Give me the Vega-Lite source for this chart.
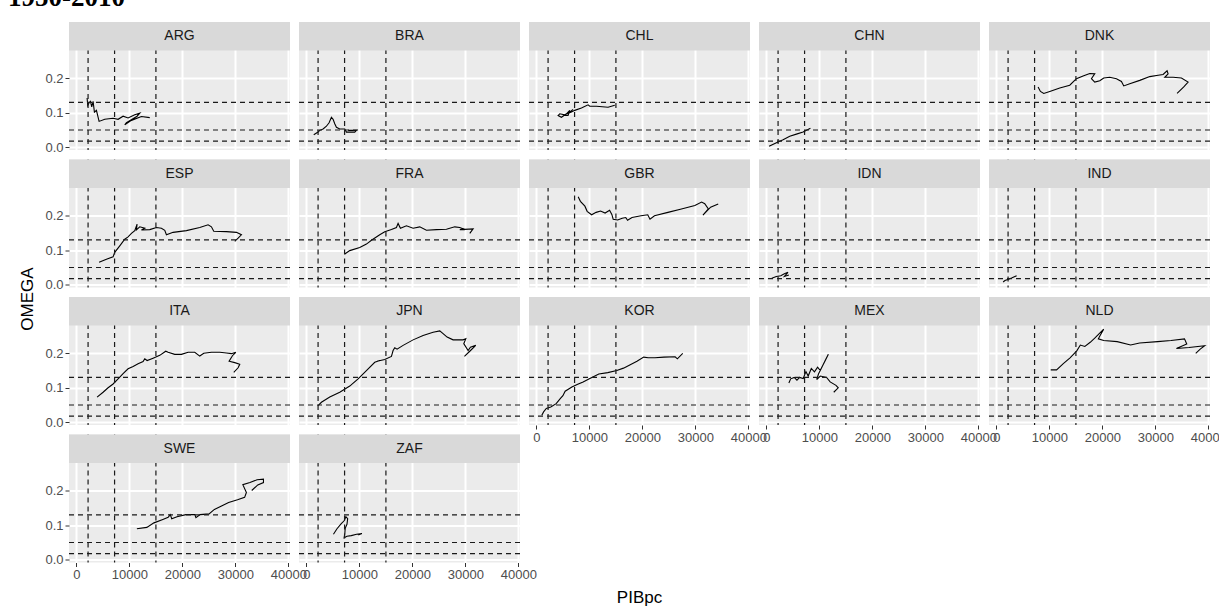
{
"$schema":"https://vega.github.io/schema/vega-lite/v6.json",
"padding":{"left":8,"top":-16,"right":0,"bottom":0},
"background":"white",
"title":{"text":"1950-2010","anchor":"start","frame":"group","dx":-61,"offset":9,"font":"Liberation Serif","fontSize":27,"fontWeight":"bold","color":"black"},
"datasets":{
"vref":[{"v":2200},{"v":7200},{"v":15000}],
"href":[{"h":0.13},{"h":0.05},{"h":0.0175}],
"omega":[
{"country":"ARG","idx":1,"PIBpc":2013,"OMEGA":0.143},{"country":"ARG","idx":2,"PIBpc":2139,"OMEGA":0.121},{"country":"ARG","idx":3,"PIBpc":2390,"OMEGA":0.129},{"country":"ARG","idx":4,"PIBpc":2642,"OMEGA":0.133},{"country":"ARG","idx":5,"PIBpc":2893,"OMEGA":0.117},{"country":"ARG","idx":6,"PIBpc":3145,"OMEGA":0.133},{"country":"ARG","idx":7,"PIBpc":3397,"OMEGA":0.102},{"country":"ARG","idx":8,"PIBpc":3774,"OMEGA":0.107},{"country":"ARG","idx":9,"PIBpc":4277,"OMEGA":0.075},{"country":"ARG","idx":10,"PIBpc":5347,"OMEGA":0.081},{"country":"ARG","idx":11,"PIBpc":6919,"OMEGA":0.084},{"country":"ARG","idx":12,"PIBpc":7863,"OMEGA":0.081},{"country":"ARG","idx":13,"PIBpc":8806,"OMEGA":0.090},{"country":"ARG","idx":14,"PIBpc":9750,"OMEGA":0.085},{"country":"ARG","idx":15,"PIBpc":11007,"OMEGA":0.094},{"country":"ARG","idx":16,"PIBpc":11951,"OMEGA":0.099},{"country":"ARG","idx":17,"PIBpc":11447,"OMEGA":0.090},{"country":"ARG","idx":18,"PIBpc":9435,"OMEGA":0.071},{"country":"ARG","idx":19,"PIBpc":9120,"OMEGA":0.065},{"country":"ARG","idx":20,"PIBpc":10378,"OMEGA":0.078},{"country":"ARG","idx":21,"PIBpc":12266,"OMEGA":0.089},{"country":"ARG","idx":22,"PIBpc":13838,"OMEGA":0.086},
{"country":"BRA","idx":1,"PIBpc":1384,"OMEGA":0.036},{"country":"BRA","idx":2,"PIBpc":2200,"OMEGA":0.044},{"country":"BRA","idx":3,"PIBpc":2516,"OMEGA":0.049},{"country":"BRA","idx":4,"PIBpc":3145,"OMEGA":0.053},{"country":"BRA","idx":5,"PIBpc":3774,"OMEGA":0.061},{"country":"BRA","idx":6,"PIBpc":4277,"OMEGA":0.071},{"country":"BRA","idx":7,"PIBpc":4718,"OMEGA":0.087},{"country":"BRA","idx":8,"PIBpc":5032,"OMEGA":0.081},{"country":"BRA","idx":9,"PIBpc":5347,"OMEGA":0.068},{"country":"BRA","idx":10,"PIBpc":5661,"OMEGA":0.058},{"country":"BRA","idx":11,"PIBpc":6290,"OMEGA":0.053},{"country":"BRA","idx":12,"PIBpc":7233,"OMEGA":0.053},{"country":"BRA","idx":13,"PIBpc":7548,"OMEGA":0.044},{"country":"BRA","idx":14,"PIBpc":9120,"OMEGA":0.044},{"country":"BRA","idx":15,"PIBpc":9435,"OMEGA":0.049},{"country":"BRA","idx":16,"PIBpc":7863,"OMEGA":0.049},
{"country":"CHL","idx":1,"PIBpc":6919,"OMEGA":0.110},{"country":"CHL","idx":2,"PIBpc":6290,"OMEGA":0.102},{"country":"CHL","idx":3,"PIBpc":5347,"OMEGA":0.094},{"country":"CHL","idx":4,"PIBpc":4403,"OMEGA":0.097},{"country":"CHL","idx":5,"PIBpc":4089,"OMEGA":0.092},{"country":"CHL","idx":6,"PIBpc":4718,"OMEGA":0.087},{"country":"CHL","idx":7,"PIBpc":5661,"OMEGA":0.097},{"country":"CHL","idx":8,"PIBpc":6290,"OMEGA":0.107},{"country":"CHL","idx":9,"PIBpc":5976,"OMEGA":0.092},{"country":"CHL","idx":10,"PIBpc":5032,"OMEGA":0.092},{"country":"CHL","idx":11,"PIBpc":6605,"OMEGA":0.102},{"country":"CHL","idx":12,"PIBpc":7233,"OMEGA":0.107},{"country":"CHL","idx":13,"PIBpc":8491,"OMEGA":0.114},{"country":"CHL","idx":14,"PIBpc":9750,"OMEGA":0.123},{"country":"CHL","idx":15,"PIBpc":10064,"OMEGA":0.119},{"country":"CHL","idx":16,"PIBpc":11322,"OMEGA":0.119},{"country":"CHL","idx":17,"PIBpc":13524,"OMEGA":0.116},{"country":"CHL","idx":18,"PIBpc":14782,"OMEGA":0.122},
{"country":"CHN","idx":1,"PIBpc":503,"OMEGA":0.003},{"country":"CHN","idx":2,"PIBpc":1887,"OMEGA":0.013},{"country":"CHN","idx":3,"PIBpc":3145,"OMEGA":0.022},{"country":"CHN","idx":4,"PIBpc":4403,"OMEGA":0.032},{"country":"CHN","idx":5,"PIBpc":5661,"OMEGA":0.038},{"country":"CHN","idx":6,"PIBpc":6919,"OMEGA":0.044},{"country":"CHN","idx":7,"PIBpc":8303,"OMEGA":0.055},
{"country":"DNK","idx":1,"PIBpc":7863,"OMEGA":0.175},{"country":"DNK","idx":2,"PIBpc":8303,"OMEGA":0.162},{"country":"DNK","idx":3,"PIBpc":8932,"OMEGA":0.156},{"country":"DNK","idx":4,"PIBpc":10064,"OMEGA":0.162},{"country":"DNK","idx":5,"PIBpc":11951,"OMEGA":0.172},{"country":"DNK","idx":6,"PIBpc":13838,"OMEGA":0.180},{"country":"DNK","idx":7,"PIBpc":15096,"OMEGA":0.199},{"country":"DNK","idx":8,"PIBpc":16354,"OMEGA":0.207},{"country":"DNK","idx":9,"PIBpc":17612,"OMEGA":0.214},{"country":"DNK","idx":10,"PIBpc":18556,"OMEGA":0.213},{"country":"DNK","idx":11,"PIBpc":17927,"OMEGA":0.199},{"country":"DNK","idx":12,"PIBpc":18556,"OMEGA":0.189},{"country":"DNK","idx":13,"PIBpc":19499,"OMEGA":0.193},{"country":"DNK","idx":14,"PIBpc":20254,"OMEGA":0.201},{"country":"DNK","idx":15,"PIBpc":21386,"OMEGA":0.203},{"country":"DNK","idx":16,"PIBpc":22644,"OMEGA":0.199},{"country":"DNK","idx":17,"PIBpc":23588,"OMEGA":0.191},{"country":"DNK","idx":18,"PIBpc":24028,"OMEGA":0.178},{"country":"DNK","idx":19,"PIBpc":25160,"OMEGA":0.184},{"country":"DNK","idx":20,"PIBpc":27047,"OMEGA":0.194},{"country":"DNK","idx":21,"PIBpc":28934,"OMEGA":0.205},{"country":"DNK","idx":22,"PIBpc":30507,"OMEGA":0.209},{"country":"DNK","idx":23,"PIBpc":31450,"OMEGA":0.211},{"country":"DNK","idx":24,"PIBpc":32205,"OMEGA":0.222},{"country":"DNK","idx":25,"PIBpc":32394,"OMEGA":0.213},{"country":"DNK","idx":26,"PIBpc":31765,"OMEGA":0.203},{"country":"DNK","idx":27,"PIBpc":33337,"OMEGA":0.203},{"country":"DNK","idx":28,"PIBpc":34910,"OMEGA":0.201},{"country":"DNK","idx":29,"PIBpc":36168,"OMEGA":0.189},{"country":"DNK","idx":30,"PIBpc":35350,"OMEGA":0.175},{"country":"DNK","idx":31,"PIBpc":34092,"OMEGA":0.156},
{"country":"ESP","idx":1,"PIBpc":4277,"OMEGA":0.065},{"country":"ESP","idx":2,"PIBpc":5661,"OMEGA":0.074},{"country":"ESP","idx":3,"PIBpc":6919,"OMEGA":0.081},{"country":"ESP","idx":4,"PIBpc":7233,"OMEGA":0.094},{"country":"ESP","idx":5,"PIBpc":8177,"OMEGA":0.113},{"country":"ESP","idx":6,"PIBpc":9120,"OMEGA":0.132},{"country":"ESP","idx":7,"PIBpc":9750,"OMEGA":0.139},{"country":"ESP","idx":8,"PIBpc":10378,"OMEGA":0.149},{"country":"ESP","idx":9,"PIBpc":11007,"OMEGA":0.157},{"country":"ESP","idx":10,"PIBpc":11447,"OMEGA":0.176},{"country":"ESP","idx":11,"PIBpc":11322,"OMEGA":0.159},{"country":"ESP","idx":12,"PIBpc":11951,"OMEGA":0.168},{"country":"ESP","idx":13,"PIBpc":12895,"OMEGA":0.164},{"country":"ESP","idx":14,"PIBpc":12266,"OMEGA":0.159},{"country":"ESP","idx":15,"PIBpc":13838,"OMEGA":0.160},{"country":"ESP","idx":16,"PIBpc":15096,"OMEGA":0.166},{"country":"ESP","idx":17,"PIBpc":16039,"OMEGA":0.164},{"country":"ESP","idx":18,"PIBpc":16668,"OMEGA":0.158},{"country":"ESP","idx":19,"PIBpc":16983,"OMEGA":0.145},{"country":"ESP","idx":20,"PIBpc":18241,"OMEGA":0.152},{"country":"ESP","idx":21,"PIBpc":20757,"OMEGA":0.157},{"country":"ESP","idx":22,"PIBpc":23273,"OMEGA":0.166},{"country":"ESP","idx":23,"PIBpc":24846,"OMEGA":0.174},{"country":"ESP","idx":24,"PIBpc":25475,"OMEGA":0.168},{"country":"ESP","idx":25,"PIBpc":25915,"OMEGA":0.155},{"country":"ESP","idx":26,"PIBpc":28305,"OMEGA":0.154},{"country":"ESP","idx":27,"PIBpc":30192,"OMEGA":0.152},{"country":"ESP","idx":28,"PIBpc":31136,"OMEGA":0.145},{"country":"ESP","idx":29,"PIBpc":30507,"OMEGA":0.135},{"country":"ESP","idx":30,"PIBpc":29878,"OMEGA":0.126},
{"country":"FRA","idx":1,"PIBpc":7233,"OMEGA":0.089},{"country":"FRA","idx":2,"PIBpc":8177,"OMEGA":0.099},{"country":"FRA","idx":3,"PIBpc":10064,"OMEGA":0.108},{"country":"FRA","idx":4,"PIBpc":11322,"OMEGA":0.118},{"country":"FRA","idx":5,"PIBpc":12266,"OMEGA":0.129},{"country":"FRA","idx":6,"PIBpc":13838,"OMEGA":0.145},{"country":"FRA","idx":7,"PIBpc":14782,"OMEGA":0.154},{"country":"FRA","idx":8,"PIBpc":16040,"OMEGA":0.160},{"country":"FRA","idx":9,"PIBpc":16983,"OMEGA":0.166},{"country":"FRA","idx":10,"PIBpc":17298,"OMEGA":0.178},{"country":"FRA","idx":11,"PIBpc":17738,"OMEGA":0.164},{"country":"FRA","idx":12,"PIBpc":18870,"OMEGA":0.171},{"country":"FRA","idx":13,"PIBpc":20128,"OMEGA":0.164},{"country":"FRA","idx":14,"PIBpc":21386,"OMEGA":0.168},{"country":"FRA","idx":15,"PIBpc":22644,"OMEGA":0.158},{"country":"FRA","idx":16,"PIBpc":24531,"OMEGA":0.160},{"country":"FRA","idx":17,"PIBpc":26418,"OMEGA":0.161},{"country":"FRA","idx":18,"PIBpc":27991,"OMEGA":0.168},{"country":"FRA","idx":19,"PIBpc":28934,"OMEGA":0.166},{"country":"FRA","idx":20,"PIBpc":29878,"OMEGA":0.160},{"country":"FRA","idx":21,"PIBpc":28934,"OMEGA":0.160},{"country":"FRA","idx":22,"PIBpc":31450,"OMEGA":0.162},{"country":"FRA","idx":23,"PIBpc":30821,"OMEGA":0.149},
{"country":"GBR","idx":1,"PIBpc":7877,"OMEGA":0.255},{"country":"GBR","idx":2,"PIBpc":8301,"OMEGA":0.242},{"country":"GBR","idx":3,"PIBpc":9148,"OMEGA":0.228},{"country":"GBR","idx":4,"PIBpc":9571,"OMEGA":0.213},{"country":"GBR","idx":5,"PIBpc":10418,"OMEGA":0.203},{"country":"GBR","idx":6,"PIBpc":11265,"OMEGA":0.210},{"country":"GBR","idx":7,"PIBpc":12112,"OMEGA":0.214},{"country":"GBR","idx":8,"PIBpc":12959,"OMEGA":0.208},{"country":"GBR","idx":9,"PIBpc":13806,"OMEGA":0.216},{"country":"GBR","idx":10,"PIBpc":14230,"OMEGA":0.204},{"country":"GBR","idx":11,"PIBpc":14484,"OMEGA":0.190},{"country":"GBR","idx":12,"PIBpc":15331,"OMEGA":0.188},{"country":"GBR","idx":13,"PIBpc":16178,"OMEGA":0.193},{"country":"GBR","idx":14,"PIBpc":16855,"OMEGA":0.195},{"country":"GBR","idx":15,"PIBpc":17194,"OMEGA":0.187},{"country":"GBR","idx":16,"PIBpc":18041,"OMEGA":0.195},{"country":"GBR","idx":17,"PIBpc":19735,"OMEGA":0.200},{"country":"GBR","idx":18,"PIBpc":21006,"OMEGA":0.203},{"country":"GBR","idx":19,"PIBpc":21429,"OMEGA":0.190},{"country":"GBR","idx":20,"PIBpc":22276,"OMEGA":0.200},{"country":"GBR","idx":21,"PIBpc":24817,"OMEGA":0.210},{"country":"GBR","idx":22,"PIBpc":27358,"OMEGA":0.220},{"country":"GBR","idx":23,"PIBpc":29899,"OMEGA":0.230},{"country":"GBR","idx":24,"PIBpc":31170,"OMEGA":0.240},{"country":"GBR","idx":25,"PIBpc":31763,"OMEGA":0.235},{"country":"GBR","idx":26,"PIBpc":32440,"OMEGA":0.220},{"country":"GBR","idx":27,"PIBpc":31424,"OMEGA":0.202},{"country":"GBR","idx":28,"PIBpc":32864,"OMEGA":0.225},{"country":"GBR","idx":29,"PIBpc":34304,"OMEGA":0.234},
{"country":"IDN","idx":1,"PIBpc":1016,"OMEGA":0.019},{"country":"IDN","idx":2,"PIBpc":1863,"OMEGA":0.024},{"country":"IDN","idx":3,"PIBpc":2710,"OMEGA":0.026},{"country":"IDN","idx":4,"PIBpc":3388,"OMEGA":0.032},{"country":"IDN","idx":5,"PIBpc":4066,"OMEGA":0.036},{"country":"IDN","idx":6,"PIBpc":3388,"OMEGA":0.024},{"country":"IDN","idx":7,"PIBpc":4235,"OMEGA":0.028},
{"country":"IND","idx":1,"PIBpc":1270,"OMEGA":0.008},{"country":"IND","idx":2,"PIBpc":1609,"OMEGA":0.012},{"country":"IND","idx":3,"PIBpc":2287,"OMEGA":0.016},{"country":"IND","idx":4,"PIBpc":2965,"OMEGA":0.020},{"country":"IND","idx":5,"PIBpc":3812,"OMEGA":0.026},
{"country":"ITA","idx":1,"PIBpc":3900,"OMEGA":0.073},{"country":"ITA","idx":2,"PIBpc":5032,"OMEGA":0.087},{"country":"ITA","idx":3,"PIBpc":5976,"OMEGA":0.100},{"country":"ITA","idx":4,"PIBpc":6919,"OMEGA":0.111},{"country":"ITA","idx":5,"PIBpc":7863,"OMEGA":0.126},{"country":"ITA","idx":6,"PIBpc":8806,"OMEGA":0.141},{"country":"ITA","idx":7,"PIBpc":9750,"OMEGA":0.155},{"country":"ITA","idx":8,"PIBpc":10693,"OMEGA":0.162},{"country":"ITA","idx":9,"PIBpc":11637,"OMEGA":0.170},{"country":"ITA","idx":10,"PIBpc":12580,"OMEGA":0.176},{"country":"ITA","idx":11,"PIBpc":12895,"OMEGA":0.184},{"country":"ITA","idx":12,"PIBpc":13335,"OMEGA":0.179},{"country":"ITA","idx":13,"PIBpc":14467,"OMEGA":0.186},{"country":"ITA","idx":14,"PIBpc":15725,"OMEGA":0.194},{"country":"ITA","idx":15,"PIBpc":16857,"OMEGA":0.206},{"country":"ITA","idx":16,"PIBpc":17298,"OMEGA":0.203},{"country":"ITA","idx":17,"PIBpc":18556,"OMEGA":0.197},{"country":"ITA","idx":18,"PIBpc":19814,"OMEGA":0.197},{"country":"ITA","idx":19,"PIBpc":21072,"OMEGA":0.203},{"country":"ITA","idx":20,"PIBpc":22330,"OMEGA":0.203},{"country":"ITA","idx":21,"PIBpc":23273,"OMEGA":0.192},{"country":"ITA","idx":22,"PIBpc":24028,"OMEGA":0.200},{"country":"ITA","idx":23,"PIBpc":25475,"OMEGA":0.203},{"country":"ITA","idx":24,"PIBpc":27047,"OMEGA":0.203},{"country":"ITA","idx":25,"PIBpc":28305,"OMEGA":0.201},{"country":"ITA","idx":26,"PIBpc":29249,"OMEGA":0.199},{"country":"ITA","idx":27,"PIBpc":30066,"OMEGA":0.203},{"country":"ITA","idx":28,"PIBpc":29437,"OMEGA":0.193},{"country":"ITA","idx":29,"PIBpc":28808,"OMEGA":0.177},{"country":"ITA","idx":30,"PIBpc":29878,"OMEGA":0.173},{"country":"ITA","idx":31,"PIBpc":30821,"OMEGA":0.168},{"country":"ITA","idx":32,"PIBpc":30507,"OMEGA":0.158},{"country":"ITA","idx":33,"PIBpc":29689,"OMEGA":0.145},
{"country":"JPN","idx":1,"PIBpc":2202,"OMEGA":0.048},{"country":"JPN","idx":2,"PIBpc":2831,"OMEGA":0.058},{"country":"JPN","idx":3,"PIBpc":4403,"OMEGA":0.073},{"country":"JPN","idx":4,"PIBpc":6290,"OMEGA":0.087},{"country":"JPN","idx":5,"PIBpc":8177,"OMEGA":0.105},{"country":"JPN","idx":6,"PIBpc":9750,"OMEGA":0.126},{"country":"JPN","idx":7,"PIBpc":11322,"OMEGA":0.150},{"country":"JPN","idx":8,"PIBpc":12895,"OMEGA":0.174},{"country":"JPN","idx":9,"PIBpc":13838,"OMEGA":0.179},{"country":"JPN","idx":10,"PIBpc":13335,"OMEGA":0.177},{"country":"JPN","idx":11,"PIBpc":14782,"OMEGA":0.182},{"country":"JPN","idx":12,"PIBpc":16040,"OMEGA":0.191},{"country":"JPN","idx":13,"PIBpc":16354,"OMEGA":0.208},{"country":"JPN","idx":14,"PIBpc":16669,"OMEGA":0.216},{"country":"JPN","idx":15,"PIBpc":17109,"OMEGA":0.212},{"country":"JPN","idx":16,"PIBpc":18241,"OMEGA":0.223},{"country":"JPN","idx":17,"PIBpc":20128,"OMEGA":0.239},{"country":"JPN","idx":18,"PIBpc":22015,"OMEGA":0.252},{"country":"JPN","idx":19,"PIBpc":23902,"OMEGA":0.261},{"country":"JPN","idx":20,"PIBpc":25160,"OMEGA":0.265},{"country":"JPN","idx":21,"PIBpc":25789,"OMEGA":0.257},{"country":"JPN","idx":22,"PIBpc":26544,"OMEGA":0.247},{"country":"JPN","idx":23,"PIBpc":27676,"OMEGA":0.239},{"country":"JPN","idx":24,"PIBpc":29563,"OMEGA":0.239},{"country":"JPN","idx":25,"PIBpc":30066,"OMEGA":0.242},{"country":"JPN","idx":26,"PIBpc":29689,"OMEGA":0.228},{"country":"JPN","idx":27,"PIBpc":30507,"OMEGA":0.208},{"country":"JPN","idx":28,"PIBpc":30947,"OMEGA":0.218},{"country":"JPN","idx":29,"PIBpc":31954,"OMEGA":0.223},{"country":"JPN","idx":30,"PIBpc":30821,"OMEGA":0.206},{"country":"JPN","idx":31,"PIBpc":29815,"OMEGA":0.191},
{"country":"KOR","idx":1,"PIBpc":1016,"OMEGA":0.020},{"country":"KOR","idx":2,"PIBpc":1355,"OMEGA":0.030},{"country":"KOR","idx":3,"PIBpc":1863,"OMEGA":0.040},{"country":"KOR","idx":4,"PIBpc":2710,"OMEGA":0.044},{"country":"KOR","idx":5,"PIBpc":3727,"OMEGA":0.054},{"country":"KOR","idx":6,"PIBpc":4574,"OMEGA":0.070},{"country":"KOR","idx":7,"PIBpc":4997,"OMEGA":0.077},{"country":"KOR","idx":8,"PIBpc":5421,"OMEGA":0.090},{"country":"KOR","idx":9,"PIBpc":6691,"OMEGA":0.102},{"country":"KOR","idx":10,"PIBpc":7792,"OMEGA":0.110},{"country":"KOR","idx":11,"PIBpc":8809,"OMEGA":0.117},{"country":"KOR","idx":12,"PIBpc":10079,"OMEGA":0.127},{"country":"KOR","idx":13,"PIBpc":11773,"OMEGA":0.140},{"country":"KOR","idx":14,"PIBpc":13467,"OMEGA":0.144},{"country":"KOR","idx":15,"PIBpc":15161,"OMEGA":0.150},{"country":"KOR","idx":16,"PIBpc":16432,"OMEGA":0.157},{"country":"KOR","idx":17,"PIBpc":17702,"OMEGA":0.167},{"country":"KOR","idx":18,"PIBpc":18973,"OMEGA":0.177},{"country":"KOR","idx":19,"PIBpc":20243,"OMEGA":0.189},{"country":"KOR","idx":20,"PIBpc":21090,"OMEGA":0.187},{"country":"KOR","idx":21,"PIBpc":22361,"OMEGA":0.187},{"country":"KOR","idx":22,"PIBpc":24055,"OMEGA":0.189},{"country":"KOR","idx":23,"PIBpc":26172,"OMEGA":0.190},{"country":"KOR","idx":24,"PIBpc":26596,"OMEGA":0.184},{"country":"KOR","idx":25,"PIBpc":27612,"OMEGA":0.200},
{"country":"MEX","idx":1,"PIBpc":4235,"OMEGA":0.114},{"country":"MEX","idx":2,"PIBpc":4574,"OMEGA":0.126},{"country":"MEX","idx":3,"PIBpc":5251,"OMEGA":0.130},{"country":"MEX","idx":4,"PIBpc":5760,"OMEGA":0.122},{"country":"MEX","idx":5,"PIBpc":6268,"OMEGA":0.130},{"country":"MEX","idx":6,"PIBpc":6945,"OMEGA":0.127},{"country":"MEX","idx":7,"PIBpc":7454,"OMEGA":0.147},{"country":"MEX","idx":8,"PIBpc":7877,"OMEGA":0.134},{"country":"MEX","idx":9,"PIBpc":8470,"OMEGA":0.156},{"country":"MEX","idx":10,"PIBpc":9063,"OMEGA":0.146},{"country":"MEX","idx":11,"PIBpc":9656,"OMEGA":0.160},{"country":"MEX","idx":12,"PIBpc":10164,"OMEGA":0.150},{"country":"MEX","idx":13,"PIBpc":10672,"OMEGA":0.166},{"country":"MEX","idx":14,"PIBpc":11180,"OMEGA":0.182},{"country":"MEX","idx":15,"PIBpc":11689,"OMEGA":0.197},{"country":"MEX","idx":16,"PIBpc":11011,"OMEGA":0.176},{"country":"MEX","idx":17,"PIBpc":10333,"OMEGA":0.156},{"country":"MEX","idx":18,"PIBpc":9825,"OMEGA":0.140},{"country":"MEX","idx":19,"PIBpc":9486,"OMEGA":0.124},{"country":"MEX","idx":20,"PIBpc":10164,"OMEGA":0.134},{"country":"MEX","idx":21,"PIBpc":11350,"OMEGA":0.130},{"country":"MEX","idx":22,"PIBpc":12027,"OMEGA":0.117},{"country":"MEX","idx":23,"PIBpc":13128,"OMEGA":0.107},{"country":"MEX","idx":24,"PIBpc":13552,"OMEGA":0.100},{"country":"MEX","idx":25,"PIBpc":12705,"OMEGA":0.087},
{"country":"NLD","idx":1,"PIBpc":10249,"OMEGA":0.152},{"country":"NLD","idx":2,"PIBpc":11350,"OMEGA":0.152},{"country":"NLD","idx":3,"PIBpc":12620,"OMEGA":0.170},{"country":"NLD","idx":4,"PIBpc":13891,"OMEGA":0.187},{"country":"NLD","idx":5,"PIBpc":15161,"OMEGA":0.207},{"country":"NLD","idx":6,"PIBpc":15839,"OMEGA":0.224},{"country":"NLD","idx":7,"PIBpc":16686,"OMEGA":0.220},{"country":"NLD","idx":8,"PIBpc":17702,"OMEGA":0.232},{"country":"NLD","idx":9,"PIBpc":18549,"OMEGA":0.244},{"country":"NLD","idx":10,"PIBpc":19396,"OMEGA":0.257},{"country":"NLD","idx":11,"PIBpc":20243,"OMEGA":0.270},{"country":"NLD","idx":12,"PIBpc":19566,"OMEGA":0.252},{"country":"NLD","idx":13,"PIBpc":19227,"OMEGA":0.242},{"country":"NLD","idx":14,"PIBpc":20243,"OMEGA":0.237},{"country":"NLD","idx":15,"PIBpc":22784,"OMEGA":0.234},{"country":"NLD","idx":16,"PIBpc":25325,"OMEGA":0.224},{"country":"NLD","idx":17,"PIBpc":27019,"OMEGA":0.230},{"country":"NLD","idx":18,"PIBpc":30407,"OMEGA":0.234},{"country":"NLD","idx":19,"PIBpc":32948,"OMEGA":0.237},{"country":"NLD","idx":20,"PIBpc":35489,"OMEGA":0.242},{"country":"NLD","idx":21,"PIBpc":35912,"OMEGA":0.227},{"country":"NLD","idx":22,"PIBpc":33964,"OMEGA":0.214},{"country":"NLD","idx":23,"PIBpc":36336,"OMEGA":0.217},{"country":"NLD","idx":24,"PIBpc":39301,"OMEGA":0.222},{"country":"NLD","idx":25,"PIBpc":38454,"OMEGA":0.212},{"country":"NLD","idx":26,"PIBpc":37607,"OMEGA":0.200},
{"country":"SWE","idx":1,"PIBpc":11407,"OMEGA":0.090},{"country":"SWE","idx":2,"PIBpc":13286,"OMEGA":0.094},{"country":"SWE","idx":3,"PIBpc":14628,"OMEGA":0.107},{"country":"SWE","idx":4,"PIBpc":16305,"OMEGA":0.117},{"country":"SWE","idx":5,"PIBpc":17312,"OMEGA":0.123},{"country":"SWE","idx":6,"PIBpc":17714,"OMEGA":0.131},{"country":"SWE","idx":7,"PIBpc":17983,"OMEGA":0.119},{"country":"SWE","idx":8,"PIBpc":18989,"OMEGA":0.125},{"country":"SWE","idx":9,"PIBpc":20667,"OMEGA":0.131},{"country":"SWE","idx":10,"PIBpc":22344,"OMEGA":0.131},{"country":"SWE","idx":11,"PIBpc":22546,"OMEGA":0.122},{"country":"SWE","idx":12,"PIBpc":23351,"OMEGA":0.131},{"country":"SWE","idx":13,"PIBpc":25028,"OMEGA":0.133},{"country":"SWE","idx":14,"PIBpc":26035,"OMEGA":0.146},{"country":"SWE","idx":15,"PIBpc":27377,"OMEGA":0.156},{"country":"SWE","idx":16,"PIBpc":28719,"OMEGA":0.166},{"country":"SWE","idx":17,"PIBpc":30396,"OMEGA":0.174},{"country":"SWE","idx":18,"PIBpc":31738,"OMEGA":0.181},{"country":"SWE","idx":19,"PIBpc":32074,"OMEGA":0.195},{"country":"SWE","idx":20,"PIBpc":31403,"OMEGA":0.218},{"country":"SWE","idx":21,"PIBpc":32745,"OMEGA":0.224},{"country":"SWE","idx":22,"PIBpc":34087,"OMEGA":0.232},{"country":"SWE","idx":23,"PIBpc":35295,"OMEGA":0.234},{"country":"SWE","idx":24,"PIBpc":35295,"OMEGA":0.224},{"country":"SWE","idx":25,"PIBpc":34221,"OMEGA":0.217},{"country":"SWE","idx":26,"PIBpc":33080,"OMEGA":0.201},
{"country":"ZAF","idx":1,"PIBpc":5100,"OMEGA":0.074},{"country":"ZAF","idx":2,"PIBpc":5771,"OMEGA":0.090},{"country":"ZAF","idx":3,"PIBpc":6576,"OMEGA":0.105},{"country":"ZAF","idx":4,"PIBpc":7113,"OMEGA":0.113},{"country":"ZAF","idx":5,"PIBpc":7448,"OMEGA":0.125},{"country":"ZAF","idx":6,"PIBpc":7784,"OMEGA":0.119},{"country":"ZAF","idx":7,"PIBpc":7649,"OMEGA":0.103},{"country":"ZAF","idx":8,"PIBpc":7314,"OMEGA":0.091},{"country":"ZAF","idx":9,"PIBpc":7247,"OMEGA":0.076},{"country":"ZAF","idx":10,"PIBpc":7113,"OMEGA":0.064},{"country":"ZAF","idx":11,"PIBpc":7649,"OMEGA":0.068},{"country":"ZAF","idx":12,"PIBpc":8455,"OMEGA":0.070},{"country":"ZAF","idx":13,"PIBpc":9461,"OMEGA":0.074},{"country":"ZAF","idx":14,"PIBpc":10468,"OMEGA":0.076},{"country":"ZAF","idx":15,"PIBpc":9797,"OMEGA":0.072}
]},
"columns":5,
"spacing":{"row":9.5,"column":9},
"bounds":"flush",
"concat":[
{"width":221,"height":128,"layer":[
{"data":{"name":"omega"},"transform":[{"filter":"datum.country === 'ARG'"}],"mark":{"type":"line","color":"black","strokeWidth":1.1},"encoding":{"x":{"field":"PIBpc","type":"quantitative","scale":{"domain":[-1400,40300],"nice":false,"zero":false},"axis":{"values":[0,5000,10000,15000,20000,25000,30000,35000,40000],"labels":false,"ticks":false,"title":null,"gridWidth":{"condition":{"test":"datum.value % 10000 === 0","value":2},"value":1}}},"y":{"field":"OMEGA","type":"quantitative","scale":{"domain":[-0.008,0.3634],"nice":false,"zero":false},"axis":{"values":[0,0.05,0.1,0.15,0.2,0.25],"title":null,"labelExpr":"abs(datum.value*10 - round(datum.value*10)) < 0.001 ? format(datum.value,'.1f') : ''","tickColor":{"condition":{"test":"abs(datum.value*10 - round(datum.value*10)) >= 0.001","value":"transparent"},"value":"#333333"},"gridWidth":{"condition":{"test":"abs(datum.value*10 - round(datum.value*10)) < 0.001","value":2},"value":1}}},"order":{"field":"idx","type":"quantitative"}}},
{"data":{"name":"vref"},"mark":{"type":"rule","color":"#1a1a1a","strokeDash":[5,4],"strokeWidth":1.2},"encoding":{"x":{"field":"v","type":"quantitative"}}},
{"data":{"name":"href"},"mark":{"type":"rule","color":"#1a1a1a","strokeDash":[5,4],"strokeWidth":1.2},"encoding":{"y":{"field":"h","type":"quantitative"}}},
{"data":{"values":[{"country":"ARG"}]},"mark":{"type":"rect","color":"#D9D9D9"},"encoding":{"y":{"datum":0.281},"y2":{"datum":0.3634}}},
{"data":{"values":[{"country":"ARG"}]},"mark":{"type":"text","color":"#1A1A1A","fontSize":14,"font":"Liberation Sans"},"encoding":{"text":{"field":"country"},"y":{"datum":0.322}}}
]},
{"width":221,"height":128,"layer":[
{"data":{"name":"omega"},"transform":[{"filter":"datum.country === 'BRA'"}],"mark":{"type":"line","color":"black","strokeWidth":1.1},"encoding":{"x":{"field":"PIBpc","type":"quantitative","scale":{"domain":[-1400,40300],"nice":false,"zero":false},"axis":{"values":[0,5000,10000,15000,20000,25000,30000,35000,40000],"labels":false,"ticks":false,"title":null,"gridWidth":{"condition":{"test":"datum.value % 10000 === 0","value":2},"value":1}}},"y":{"field":"OMEGA","type":"quantitative","scale":{"domain":[-0.008,0.3634],"nice":false,"zero":false},"axis":{"values":[0,0.05,0.1,0.15,0.2,0.25],"labels":false,"ticks":false,"title":null,"gridWidth":{"condition":{"test":"abs(datum.value*10 - round(datum.value*10)) < 0.001","value":2},"value":1}}},"order":{"field":"idx","type":"quantitative"}}},
{"data":{"name":"vref"},"mark":{"type":"rule","color":"#1a1a1a","strokeDash":[5,4],"strokeWidth":1.2},"encoding":{"x":{"field":"v","type":"quantitative"}}},
{"data":{"name":"href"},"mark":{"type":"rule","color":"#1a1a1a","strokeDash":[5,4],"strokeWidth":1.2},"encoding":{"y":{"field":"h","type":"quantitative"}}},
{"data":{"values":[{"country":"BRA"}]},"mark":{"type":"rect","color":"#D9D9D9"},"encoding":{"y":{"datum":0.281},"y2":{"datum":0.3634}}},
{"data":{"values":[{"country":"BRA"}]},"mark":{"type":"text","color":"#1A1A1A","fontSize":14,"font":"Liberation Sans"},"encoding":{"text":{"field":"country"},"y":{"datum":0.322}}}
]},
{"width":221,"height":128,"layer":[
{"data":{"name":"omega"},"transform":[{"filter":"datum.country === 'CHL'"}],"mark":{"type":"line","color":"black","strokeWidth":1.1},"encoding":{"x":{"field":"PIBpc","type":"quantitative","scale":{"domain":[-1400,40300],"nice":false,"zero":false},"axis":{"values":[0,5000,10000,15000,20000,25000,30000,35000,40000],"labels":false,"ticks":false,"title":null,"gridWidth":{"condition":{"test":"datum.value % 10000 === 0","value":2},"value":1}}},"y":{"field":"OMEGA","type":"quantitative","scale":{"domain":[-0.008,0.3634],"nice":false,"zero":false},"axis":{"values":[0,0.05,0.1,0.15,0.2,0.25],"labels":false,"ticks":false,"title":null,"gridWidth":{"condition":{"test":"abs(datum.value*10 - round(datum.value*10)) < 0.001","value":2},"value":1}}},"order":{"field":"idx","type":"quantitative"}}},
{"data":{"name":"vref"},"mark":{"type":"rule","color":"#1a1a1a","strokeDash":[5,4],"strokeWidth":1.2},"encoding":{"x":{"field":"v","type":"quantitative"}}},
{"data":{"name":"href"},"mark":{"type":"rule","color":"#1a1a1a","strokeDash":[5,4],"strokeWidth":1.2},"encoding":{"y":{"field":"h","type":"quantitative"}}},
{"data":{"values":[{"country":"CHL"}]},"mark":{"type":"rect","color":"#D9D9D9"},"encoding":{"y":{"datum":0.281},"y2":{"datum":0.3634}}},
{"data":{"values":[{"country":"CHL"}]},"mark":{"type":"text","color":"#1A1A1A","fontSize":14,"font":"Liberation Sans"},"encoding":{"text":{"field":"country"},"y":{"datum":0.322}}}
]},
{"width":221,"height":128,"layer":[
{"data":{"name":"omega"},"transform":[{"filter":"datum.country === 'CHN'"}],"mark":{"type":"line","color":"black","strokeWidth":1.1},"encoding":{"x":{"field":"PIBpc","type":"quantitative","scale":{"domain":[-1400,40300],"nice":false,"zero":false},"axis":{"values":[0,5000,10000,15000,20000,25000,30000,35000,40000],"labels":false,"ticks":false,"title":null,"gridWidth":{"condition":{"test":"datum.value % 10000 === 0","value":2},"value":1}}},"y":{"field":"OMEGA","type":"quantitative","scale":{"domain":[-0.008,0.3634],"nice":false,"zero":false},"axis":{"values":[0,0.05,0.1,0.15,0.2,0.25],"labels":false,"ticks":false,"title":null,"gridWidth":{"condition":{"test":"abs(datum.value*10 - round(datum.value*10)) < 0.001","value":2},"value":1}}},"order":{"field":"idx","type":"quantitative"}}},
{"data":{"name":"vref"},"mark":{"type":"rule","color":"#1a1a1a","strokeDash":[5,4],"strokeWidth":1.2},"encoding":{"x":{"field":"v","type":"quantitative"}}},
{"data":{"name":"href"},"mark":{"type":"rule","color":"#1a1a1a","strokeDash":[5,4],"strokeWidth":1.2},"encoding":{"y":{"field":"h","type":"quantitative"}}},
{"data":{"values":[{"country":"CHN"}]},"mark":{"type":"rect","color":"#D9D9D9"},"encoding":{"y":{"datum":0.281},"y2":{"datum":0.3634}}},
{"data":{"values":[{"country":"CHN"}]},"mark":{"type":"text","color":"#1A1A1A","fontSize":14,"font":"Liberation Sans"},"encoding":{"text":{"field":"country"},"y":{"datum":0.322}}}
]},
{"width":221,"height":128,"layer":[
{"data":{"name":"omega"},"transform":[{"filter":"datum.country === 'DNK'"}],"mark":{"type":"line","color":"black","strokeWidth":1.1},"encoding":{"x":{"field":"PIBpc","type":"quantitative","scale":{"domain":[-1400,40300],"nice":false,"zero":false},"axis":{"values":[0,5000,10000,15000,20000,25000,30000,35000,40000],"labels":false,"ticks":false,"title":null,"gridWidth":{"condition":{"test":"datum.value % 10000 === 0","value":2},"value":1}}},"y":{"field":"OMEGA","type":"quantitative","scale":{"domain":[-0.008,0.3634],"nice":false,"zero":false},"axis":{"values":[0,0.05,0.1,0.15,0.2,0.25],"labels":false,"ticks":false,"title":null,"gridWidth":{"condition":{"test":"abs(datum.value*10 - round(datum.value*10)) < 0.001","value":2},"value":1}}},"order":{"field":"idx","type":"quantitative"}}},
{"data":{"name":"vref"},"mark":{"type":"rule","color":"#1a1a1a","strokeDash":[5,4],"strokeWidth":1.2},"encoding":{"x":{"field":"v","type":"quantitative"}}},
{"data":{"name":"href"},"mark":{"type":"rule","color":"#1a1a1a","strokeDash":[5,4],"strokeWidth":1.2},"encoding":{"y":{"field":"h","type":"quantitative"}}},
{"data":{"values":[{"country":"DNK"}]},"mark":{"type":"rect","color":"#D9D9D9"},"encoding":{"y":{"datum":0.281},"y2":{"datum":0.3634}}},
{"data":{"values":[{"country":"DNK"}]},"mark":{"type":"text","color":"#1A1A1A","fontSize":14,"font":"Liberation Sans"},"encoding":{"text":{"field":"country"},"y":{"datum":0.322}}}
]},
{"width":221,"height":128,"layer":[
{"data":{"name":"omega"},"transform":[{"filter":"datum.country === 'ESP'"}],"mark":{"type":"line","color":"black","strokeWidth":1.1},"encoding":{"x":{"field":"PIBpc","type":"quantitative","scale":{"domain":[-1400,40300],"nice":false,"zero":false},"axis":{"values":[0,5000,10000,15000,20000,25000,30000,35000,40000],"labels":false,"ticks":false,"title":null,"gridWidth":{"condition":{"test":"datum.value % 10000 === 0","value":2},"value":1}}},"y":{"field":"OMEGA","type":"quantitative","scale":{"domain":[-0.008,0.3634],"nice":false,"zero":false},"axis":{"values":[0,0.05,0.1,0.15,0.2,0.25],"title":"OMEGA","titleX":-42,"titleY":139,"titleAngle":-90,"titleAlign":"center","titleBaseline":"middle","labelExpr":"abs(datum.value*10 - round(datum.value*10)) < 0.001 ? format(datum.value,'.1f') : ''","tickColor":{"condition":{"test":"abs(datum.value*10 - round(datum.value*10)) >= 0.001","value":"transparent"},"value":"#333333"},"gridWidth":{"condition":{"test":"abs(datum.value*10 - round(datum.value*10)) < 0.001","value":2},"value":1}}},"order":{"field":"idx","type":"quantitative"}}},
{"data":{"name":"vref"},"mark":{"type":"rule","color":"#1a1a1a","strokeDash":[5,4],"strokeWidth":1.2},"encoding":{"x":{"field":"v","type":"quantitative"}}},
{"data":{"name":"href"},"mark":{"type":"rule","color":"#1a1a1a","strokeDash":[5,4],"strokeWidth":1.2},"encoding":{"y":{"field":"h","type":"quantitative"}}},
{"data":{"values":[{"country":"ESP"}]},"mark":{"type":"rect","color":"#D9D9D9"},"encoding":{"y":{"datum":0.281},"y2":{"datum":0.3634}}},
{"data":{"values":[{"country":"ESP"}]},"mark":{"type":"text","color":"#1A1A1A","fontSize":14,"font":"Liberation Sans"},"encoding":{"text":{"field":"country"},"y":{"datum":0.322}}}
]},
{"width":221,"height":128,"layer":[
{"data":{"name":"omega"},"transform":[{"filter":"datum.country === 'FRA'"}],"mark":{"type":"line","color":"black","strokeWidth":1.1},"encoding":{"x":{"field":"PIBpc","type":"quantitative","scale":{"domain":[-1400,40300],"nice":false,"zero":false},"axis":{"values":[0,5000,10000,15000,20000,25000,30000,35000,40000],"labels":false,"ticks":false,"title":null,"gridWidth":{"condition":{"test":"datum.value % 10000 === 0","value":2},"value":1}}},"y":{"field":"OMEGA","type":"quantitative","scale":{"domain":[-0.008,0.3634],"nice":false,"zero":false},"axis":{"values":[0,0.05,0.1,0.15,0.2,0.25],"labels":false,"ticks":false,"title":null,"gridWidth":{"condition":{"test":"abs(datum.value*10 - round(datum.value*10)) < 0.001","value":2},"value":1}}},"order":{"field":"idx","type":"quantitative"}}},
{"data":{"name":"vref"},"mark":{"type":"rule","color":"#1a1a1a","strokeDash":[5,4],"strokeWidth":1.2},"encoding":{"x":{"field":"v","type":"quantitative"}}},
{"data":{"name":"href"},"mark":{"type":"rule","color":"#1a1a1a","strokeDash":[5,4],"strokeWidth":1.2},"encoding":{"y":{"field":"h","type":"quantitative"}}},
{"data":{"values":[{"country":"FRA"}]},"mark":{"type":"rect","color":"#D9D9D9"},"encoding":{"y":{"datum":0.281},"y2":{"datum":0.3634}}},
{"data":{"values":[{"country":"FRA"}]},"mark":{"type":"text","color":"#1A1A1A","fontSize":14,"font":"Liberation Sans"},"encoding":{"text":{"field":"country"},"y":{"datum":0.322}}}
]},
{"width":221,"height":128,"layer":[
{"data":{"name":"omega"},"transform":[{"filter":"datum.country === 'GBR'"}],"mark":{"type":"line","color":"black","strokeWidth":1.1},"encoding":{"x":{"field":"PIBpc","type":"quantitative","scale":{"domain":[-1400,40300],"nice":false,"zero":false},"axis":{"values":[0,5000,10000,15000,20000,25000,30000,35000,40000],"labels":false,"ticks":false,"title":null,"gridWidth":{"condition":{"test":"datum.value % 10000 === 0","value":2},"value":1}}},"y":{"field":"OMEGA","type":"quantitative","scale":{"domain":[-0.008,0.3634],"nice":false,"zero":false},"axis":{"values":[0,0.05,0.1,0.15,0.2,0.25],"labels":false,"ticks":false,"title":null,"gridWidth":{"condition":{"test":"abs(datum.value*10 - round(datum.value*10)) < 0.001","value":2},"value":1}}},"order":{"field":"idx","type":"quantitative"}}},
{"data":{"name":"vref"},"mark":{"type":"rule","color":"#1a1a1a","strokeDash":[5,4],"strokeWidth":1.2},"encoding":{"x":{"field":"v","type":"quantitative"}}},
{"data":{"name":"href"},"mark":{"type":"rule","color":"#1a1a1a","strokeDash":[5,4],"strokeWidth":1.2},"encoding":{"y":{"field":"h","type":"quantitative"}}},
{"data":{"values":[{"country":"GBR"}]},"mark":{"type":"rect","color":"#D9D9D9"},"encoding":{"y":{"datum":0.281},"y2":{"datum":0.3634}}},
{"data":{"values":[{"country":"GBR"}]},"mark":{"type":"text","color":"#1A1A1A","fontSize":14,"font":"Liberation Sans"},"encoding":{"text":{"field":"country"},"y":{"datum":0.322}}}
]},
{"width":221,"height":128,"layer":[
{"data":{"name":"omega"},"transform":[{"filter":"datum.country === 'IDN'"}],"mark":{"type":"line","color":"black","strokeWidth":1.1},"encoding":{"x":{"field":"PIBpc","type":"quantitative","scale":{"domain":[-1400,40300],"nice":false,"zero":false},"axis":{"values":[0,5000,10000,15000,20000,25000,30000,35000,40000],"labels":false,"ticks":false,"title":null,"gridWidth":{"condition":{"test":"datum.value % 10000 === 0","value":2},"value":1}}},"y":{"field":"OMEGA","type":"quantitative","scale":{"domain":[-0.008,0.3634],"nice":false,"zero":false},"axis":{"values":[0,0.05,0.1,0.15,0.2,0.25],"labels":false,"ticks":false,"title":null,"gridWidth":{"condition":{"test":"abs(datum.value*10 - round(datum.value*10)) < 0.001","value":2},"value":1}}},"order":{"field":"idx","type":"quantitative"}}},
{"data":{"name":"vref"},"mark":{"type":"rule","color":"#1a1a1a","strokeDash":[5,4],"strokeWidth":1.2},"encoding":{"x":{"field":"v","type":"quantitative"}}},
{"data":{"name":"href"},"mark":{"type":"rule","color":"#1a1a1a","strokeDash":[5,4],"strokeWidth":1.2},"encoding":{"y":{"field":"h","type":"quantitative"}}},
{"data":{"values":[{"country":"IDN"}]},"mark":{"type":"rect","color":"#D9D9D9"},"encoding":{"y":{"datum":0.281},"y2":{"datum":0.3634}}},
{"data":{"values":[{"country":"IDN"}]},"mark":{"type":"text","color":"#1A1A1A","fontSize":14,"font":"Liberation Sans"},"encoding":{"text":{"field":"country"},"y":{"datum":0.322}}}
]},
{"width":221,"height":128,"layer":[
{"data":{"name":"omega"},"transform":[{"filter":"datum.country === 'IND'"}],"mark":{"type":"line","color":"black","strokeWidth":1.1},"encoding":{"x":{"field":"PIBpc","type":"quantitative","scale":{"domain":[-1400,40300],"nice":false,"zero":false},"axis":{"values":[0,5000,10000,15000,20000,25000,30000,35000,40000],"labels":false,"ticks":false,"title":null,"gridWidth":{"condition":{"test":"datum.value % 10000 === 0","value":2},"value":1}}},"y":{"field":"OMEGA","type":"quantitative","scale":{"domain":[-0.008,0.3634],"nice":false,"zero":false},"axis":{"values":[0,0.05,0.1,0.15,0.2,0.25],"labels":false,"ticks":false,"title":null,"gridWidth":{"condition":{"test":"abs(datum.value*10 - round(datum.value*10)) < 0.001","value":2},"value":1}}},"order":{"field":"idx","type":"quantitative"}}},
{"data":{"name":"vref"},"mark":{"type":"rule","color":"#1a1a1a","strokeDash":[5,4],"strokeWidth":1.2},"encoding":{"x":{"field":"v","type":"quantitative"}}},
{"data":{"name":"href"},"mark":{"type":"rule","color":"#1a1a1a","strokeDash":[5,4],"strokeWidth":1.2},"encoding":{"y":{"field":"h","type":"quantitative"}}},
{"data":{"values":[{"country":"IND"}]},"mark":{"type":"rect","color":"#D9D9D9"},"encoding":{"y":{"datum":0.281},"y2":{"datum":0.3634}}},
{"data":{"values":[{"country":"IND"}]},"mark":{"type":"text","color":"#1A1A1A","fontSize":14,"font":"Liberation Sans"},"encoding":{"text":{"field":"country"},"y":{"datum":0.322}}}
]},
{"width":221,"height":128,"layer":[
{"data":{"name":"omega"},"transform":[{"filter":"datum.country === 'ITA'"}],"mark":{"type":"line","color":"black","strokeWidth":1.1},"encoding":{"x":{"field":"PIBpc","type":"quantitative","scale":{"domain":[-1400,40300],"nice":false,"zero":false},"axis":{"values":[0,5000,10000,15000,20000,25000,30000,35000,40000],"labels":false,"ticks":false,"title":null,"gridWidth":{"condition":{"test":"datum.value % 10000 === 0","value":2},"value":1}}},"y":{"field":"OMEGA","type":"quantitative","scale":{"domain":[-0.008,0.3634],"nice":false,"zero":false},"axis":{"values":[0,0.05,0.1,0.15,0.2,0.25],"title":null,"labelExpr":"abs(datum.value*10 - round(datum.value*10)) < 0.001 ? format(datum.value,'.1f') : ''","tickColor":{"condition":{"test":"abs(datum.value*10 - round(datum.value*10)) >= 0.001","value":"transparent"},"value":"#333333"},"gridWidth":{"condition":{"test":"abs(datum.value*10 - round(datum.value*10)) < 0.001","value":2},"value":1}}},"order":{"field":"idx","type":"quantitative"}}},
{"data":{"name":"vref"},"mark":{"type":"rule","color":"#1a1a1a","strokeDash":[5,4],"strokeWidth":1.2},"encoding":{"x":{"field":"v","type":"quantitative"}}},
{"data":{"name":"href"},"mark":{"type":"rule","color":"#1a1a1a","strokeDash":[5,4],"strokeWidth":1.2},"encoding":{"y":{"field":"h","type":"quantitative"}}},
{"data":{"values":[{"country":"ITA"}]},"mark":{"type":"rect","color":"#D9D9D9"},"encoding":{"y":{"datum":0.281},"y2":{"datum":0.3634}}},
{"data":{"values":[{"country":"ITA"}]},"mark":{"type":"text","color":"#1A1A1A","fontSize":14,"font":"Liberation Sans"},"encoding":{"text":{"field":"country"},"y":{"datum":0.322}}}
]},
{"width":221,"height":128,"layer":[
{"data":{"name":"omega"},"transform":[{"filter":"datum.country === 'JPN'"}],"mark":{"type":"line","color":"black","strokeWidth":1.1},"encoding":{"x":{"field":"PIBpc","type":"quantitative","scale":{"domain":[-1400,40300],"nice":false,"zero":false},"axis":{"values":[0,5000,10000,15000,20000,25000,30000,35000,40000],"labels":false,"ticks":false,"title":null,"gridWidth":{"condition":{"test":"datum.value % 10000 === 0","value":2},"value":1}}},"y":{"field":"OMEGA","type":"quantitative","scale":{"domain":[-0.008,0.3634],"nice":false,"zero":false},"axis":{"values":[0,0.05,0.1,0.15,0.2,0.25],"labels":false,"ticks":false,"title":null,"gridWidth":{"condition":{"test":"abs(datum.value*10 - round(datum.value*10)) < 0.001","value":2},"value":1}}},"order":{"field":"idx","type":"quantitative"}}},
{"data":{"name":"vref"},"mark":{"type":"rule","color":"#1a1a1a","strokeDash":[5,4],"strokeWidth":1.2},"encoding":{"x":{"field":"v","type":"quantitative"}}},
{"data":{"name":"href"},"mark":{"type":"rule","color":"#1a1a1a","strokeDash":[5,4],"strokeWidth":1.2},"encoding":{"y":{"field":"h","type":"quantitative"}}},
{"data":{"values":[{"country":"JPN"}]},"mark":{"type":"rect","color":"#D9D9D9"},"encoding":{"y":{"datum":0.281},"y2":{"datum":0.3634}}},
{"data":{"values":[{"country":"JPN"}]},"mark":{"type":"text","color":"#1A1A1A","fontSize":14,"font":"Liberation Sans"},"encoding":{"text":{"field":"country"},"y":{"datum":0.322}}}
]},
{"width":221,"height":128,"layer":[
{"data":{"name":"omega"},"transform":[{"filter":"datum.country === 'KOR'"}],"mark":{"type":"line","color":"black","strokeWidth":1.1},"encoding":{"x":{"field":"PIBpc","type":"quantitative","scale":{"domain":[-1400,40300],"nice":false,"zero":false},"axis":{"values":[0,5000,10000,15000,20000,25000,30000,35000,40000],"title":null,"labelFlush":false,"labelExpr":"datum.value % 10000 === 0 ? format(datum.value,'d') : ''","tickColor":{"condition":{"test":"datum.value % 10000 !== 0","value":"transparent"},"value":"#333333"},"gridWidth":{"condition":{"test":"datum.value % 10000 === 0","value":2},"value":1}}},"y":{"field":"OMEGA","type":"quantitative","scale":{"domain":[-0.008,0.3634],"nice":false,"zero":false},"axis":{"values":[0,0.05,0.1,0.15,0.2,0.25],"labels":false,"ticks":false,"title":null,"gridWidth":{"condition":{"test":"abs(datum.value*10 - round(datum.value*10)) < 0.001","value":2},"value":1}}},"order":{"field":"idx","type":"quantitative"}}},
{"data":{"name":"vref"},"mark":{"type":"rule","color":"#1a1a1a","strokeDash":[5,4],"strokeWidth":1.2},"encoding":{"x":{"field":"v","type":"quantitative"}}},
{"data":{"name":"href"},"mark":{"type":"rule","color":"#1a1a1a","strokeDash":[5,4],"strokeWidth":1.2},"encoding":{"y":{"field":"h","type":"quantitative"}}},
{"data":{"values":[{"country":"KOR"}]},"mark":{"type":"rect","color":"#D9D9D9"},"encoding":{"y":{"datum":0.281},"y2":{"datum":0.3634}}},
{"data":{"values":[{"country":"KOR"}]},"mark":{"type":"text","color":"#1A1A1A","fontSize":14,"font":"Liberation Sans"},"encoding":{"text":{"field":"country"},"y":{"datum":0.322}}}
]},
{"width":221,"height":128,"layer":[
{"data":{"name":"omega"},"transform":[{"filter":"datum.country === 'MEX'"}],"mark":{"type":"line","color":"black","strokeWidth":1.1},"encoding":{"x":{"field":"PIBpc","type":"quantitative","scale":{"domain":[-1400,40300],"nice":false,"zero":false},"axis":{"values":[0,5000,10000,15000,20000,25000,30000,35000,40000],"title":null,"labelFlush":false,"labelExpr":"datum.value % 10000 === 0 ? format(datum.value,'d') : ''","tickColor":{"condition":{"test":"datum.value % 10000 !== 0","value":"transparent"},"value":"#333333"},"gridWidth":{"condition":{"test":"datum.value % 10000 === 0","value":2},"value":1}}},"y":{"field":"OMEGA","type":"quantitative","scale":{"domain":[-0.008,0.3634],"nice":false,"zero":false},"axis":{"values":[0,0.05,0.1,0.15,0.2,0.25],"labels":false,"ticks":false,"title":null,"gridWidth":{"condition":{"test":"abs(datum.value*10 - round(datum.value*10)) < 0.001","value":2},"value":1}}},"order":{"field":"idx","type":"quantitative"}}},
{"data":{"name":"vref"},"mark":{"type":"rule","color":"#1a1a1a","strokeDash":[5,4],"strokeWidth":1.2},"encoding":{"x":{"field":"v","type":"quantitative"}}},
{"data":{"name":"href"},"mark":{"type":"rule","color":"#1a1a1a","strokeDash":[5,4],"strokeWidth":1.2},"encoding":{"y":{"field":"h","type":"quantitative"}}},
{"data":{"values":[{"country":"MEX"}]},"mark":{"type":"rect","color":"#D9D9D9"},"encoding":{"y":{"datum":0.281},"y2":{"datum":0.3634}}},
{"data":{"values":[{"country":"MEX"}]},"mark":{"type":"text","color":"#1A1A1A","fontSize":14,"font":"Liberation Sans"},"encoding":{"text":{"field":"country"},"y":{"datum":0.322}}}
]},
{"width":221,"height":128,"layer":[
{"data":{"name":"omega"},"transform":[{"filter":"datum.country === 'NLD'"}],"mark":{"type":"line","color":"black","strokeWidth":1.1},"encoding":{"x":{"field":"PIBpc","type":"quantitative","scale":{"domain":[-1400,40300],"nice":false,"zero":false},"axis":{"values":[0,5000,10000,15000,20000,25000,30000,35000,40000],"title":null,"labelFlush":false,"labelExpr":"datum.value % 10000 === 0 ? format(datum.value,'d') : ''","tickColor":{"condition":{"test":"datum.value % 10000 !== 0","value":"transparent"},"value":"#333333"},"gridWidth":{"condition":{"test":"datum.value % 10000 === 0","value":2},"value":1}}},"y":{"field":"OMEGA","type":"quantitative","scale":{"domain":[-0.008,0.3634],"nice":false,"zero":false},"axis":{"values":[0,0.05,0.1,0.15,0.2,0.25],"labels":false,"ticks":false,"title":null,"gridWidth":{"condition":{"test":"abs(datum.value*10 - round(datum.value*10)) < 0.001","value":2},"value":1}}},"order":{"field":"idx","type":"quantitative"}}},
{"data":{"name":"vref"},"mark":{"type":"rule","color":"#1a1a1a","strokeDash":[5,4],"strokeWidth":1.2},"encoding":{"x":{"field":"v","type":"quantitative"}}},
{"data":{"name":"href"},"mark":{"type":"rule","color":"#1a1a1a","strokeDash":[5,4],"strokeWidth":1.2},"encoding":{"y":{"field":"h","type":"quantitative"}}},
{"data":{"values":[{"country":"NLD"}]},"mark":{"type":"rect","color":"#D9D9D9"},"encoding":{"y":{"datum":0.281},"y2":{"datum":0.3634}}},
{"data":{"values":[{"country":"NLD"}]},"mark":{"type":"text","color":"#1A1A1A","fontSize":14,"font":"Liberation Sans"},"encoding":{"text":{"field":"country"},"y":{"datum":0.322}}}
]},
{"width":221,"height":128,"layer":[
{"data":{"name":"omega"},"transform":[{"filter":"datum.country === 'SWE'"}],"mark":{"type":"line","color":"black","strokeWidth":1.1},"encoding":{"x":{"field":"PIBpc","type":"quantitative","scale":{"domain":[-1400,40300],"nice":false,"zero":false},"axis":{"values":[0,5000,10000,15000,20000,25000,30000,35000,40000],"title":null,"labelFlush":false,"labelExpr":"datum.value % 10000 === 0 ? format(datum.value,'d') : ''","tickColor":{"condition":{"test":"datum.value % 10000 !== 0","value":"transparent"},"value":"#333333"},"gridWidth":{"condition":{"test":"datum.value % 10000 === 0","value":2},"value":1}}},"y":{"field":"OMEGA","type":"quantitative","scale":{"domain":[-0.008,0.3634],"nice":false,"zero":false},"axis":{"values":[0,0.05,0.1,0.15,0.2,0.25],"title":null,"labelExpr":"abs(datum.value*10 - round(datum.value*10)) < 0.001 ? format(datum.value,'.1f') : ''","tickColor":{"condition":{"test":"abs(datum.value*10 - round(datum.value*10)) >= 0.001","value":"transparent"},"value":"#333333"},"gridWidth":{"condition":{"test":"abs(datum.value*10 - round(datum.value*10)) < 0.001","value":2},"value":1}}},"order":{"field":"idx","type":"quantitative"}}},
{"data":{"name":"vref"},"mark":{"type":"rule","color":"#1a1a1a","strokeDash":[5,4],"strokeWidth":1.2},"encoding":{"x":{"field":"v","type":"quantitative"}}},
{"data":{"name":"href"},"mark":{"type":"rule","color":"#1a1a1a","strokeDash":[5,4],"strokeWidth":1.2},"encoding":{"y":{"field":"h","type":"quantitative"}}},
{"data":{"values":[{"country":"SWE"}]},"mark":{"type":"rect","color":"#D9D9D9"},"encoding":{"y":{"datum":0.281},"y2":{"datum":0.3634}}},
{"data":{"values":[{"country":"SWE"}]},"mark":{"type":"text","color":"#1A1A1A","fontSize":14,"font":"Liberation Sans"},"encoding":{"text":{"field":"country"},"y":{"datum":0.322}}}
]},
{"width":221,"height":128,"layer":[
{"data":{"name":"omega"},"transform":[{"filter":"datum.country === 'ZAF'"}],"mark":{"type":"line","color":"black","strokeWidth":1.1},"encoding":{"x":{"field":"PIBpc","type":"quantitative","scale":{"domain":[-1400,40300],"nice":false,"zero":false},"axis":{"values":[0,5000,10000,15000,20000,25000,30000,35000,40000],"title":"PIBpc","titleX":340,"titleY":35,"titleAlign":"center","titleBaseline":"middle","labelFlush":false,"labelExpr":"datum.value % 10000 === 0 ? format(datum.value,'d') : ''","tickColor":{"condition":{"test":"datum.value % 10000 !== 0","value":"transparent"},"value":"#333333"},"gridWidth":{"condition":{"test":"datum.value % 10000 === 0","value":2},"value":1}}},"y":{"field":"OMEGA","type":"quantitative","scale":{"domain":[-0.008,0.3634],"nice":false,"zero":false},"axis":{"values":[0,0.05,0.1,0.15,0.2,0.25],"labels":false,"ticks":false,"title":null,"gridWidth":{"condition":{"test":"abs(datum.value*10 - round(datum.value*10)) < 0.001","value":2},"value":1}}},"order":{"field":"idx","type":"quantitative"}}},
{"data":{"name":"vref"},"mark":{"type":"rule","color":"#1a1a1a","strokeDash":[5,4],"strokeWidth":1.2},"encoding":{"x":{"field":"v","type":"quantitative"}}},
{"data":{"name":"href"},"mark":{"type":"rule","color":"#1a1a1a","strokeDash":[5,4],"strokeWidth":1.2},"encoding":{"y":{"field":"h","type":"quantitative"}}},
{"data":{"values":[{"country":"ZAF"}]},"mark":{"type":"rect","color":"#D9D9D9"},"encoding":{"y":{"datum":0.281},"y2":{"datum":0.3634}}},
{"data":{"values":[{"country":"ZAF"}]},"mark":{"type":"text","color":"#1A1A1A","fontSize":14,"font":"Liberation Sans"},"encoding":{"text":{"field":"country"},"y":{"datum":0.322}}}
]}
],
"config":{
"view":{"fill":"#EBEBEB","stroke":null},
"axis":{"domain":false,"gridColor":"white","labelFont":"Liberation Sans","labelFontSize":13,"labelColor":"#4D4D4D","labelPadding":2,"tickSize":4,"tickWidth":1,"tickColor":"#333333","titleFont":"Liberation Sans","titleFontSize":17,"titleFontWeight":"normal","titleColor":"black"}
}
}
